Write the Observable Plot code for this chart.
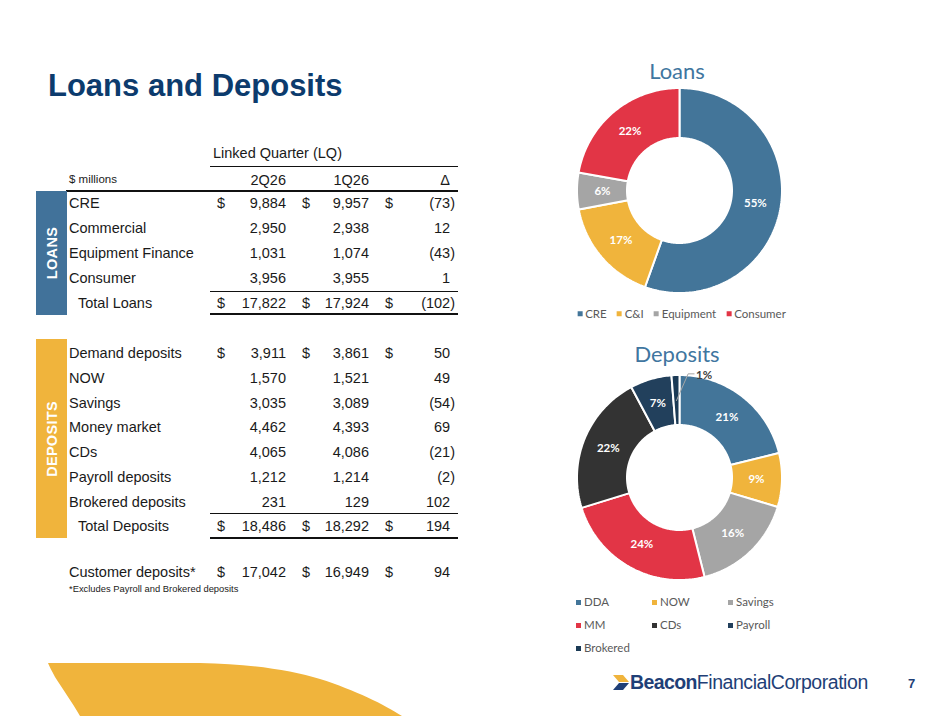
<!DOCTYPE html>
<html><head><meta charset="utf-8">
<script src="https://cdn.jsdelivr.net/npm/d3@7"></script>
<script src="https://cdn.jsdelivr.net/npm/@observablehq/plot@0.6"></script>
<style>
html,body{margin:0;padding:0;background:#fff;}
#slide{position:relative;width:941px;height:727px;overflow:hidden;background:#fff;font-family:"Liberation Sans",Arial,sans-serif;}
.t{position:absolute;white-space:nowrap;line-height:1;}
.rule{position:absolute;background:#111;}
.box{position:absolute;}
.chart{position:absolute;}
.legend{position:absolute;font-family:Lato,sans-serif;font-size:11.5px;color:#595959;line-height:1;}
.legend .it{display:flex;align-items:center;white-space:nowrap;}
.legend .sw{width:5px;height:5px;margin-right:3px;flex:none;}
</style></head><body>
<div id="slide"></div>
<script>
// ---------- DATA ----------
const tableColumns = ["2Q26", "1Q26", "Δ"];
const loanLabels = ["CRE", "Commercial", "Equipment Finance", "Consumer"];
const loan2Q26 = [9884, 2950, 1031, 3956];
const loan1Q26 = [9957, 2938, 1074, 3955];
const loanDelta = [-73, 12, -43, 1];
const loanTotals = [17822, 17924, -102];
const depositLabels = ["Demand deposits", "NOW", "Savings", "Money market", "CDs", "Payroll deposits", "Brokered deposits"];
const deposit2Q26 = [3911, 1570, 3035, 4462, 4065, 1212, 231];
const deposit1Q26 = [3861, 1521, 3089, 4393, 4086, 1214, 129];
const depositDelta = [50, 49, -54, 69, -21, -2, 102];
const depositTotals = [18486, 18292, 194];
const customerDeposits = [17042, 16949, 94];

const loanMixLabels = ["CRE", "C&I", "Equipment", "Consumer"];
const loanMixValues = [9884, 2950, 1031, 3956];
const loanMixPct = ["55%", "17%", "6%", "22%"];
const depositMixLabels = ["DDA", "NOW", "Savings", "MM", "CDs", "Payroll", "Brokered"];
const depositMixValues = [3911, 1570, 3035, 4462, 4065, 1212, 231];
const depositMixPct = ["21%", "9%", "16%", "24%", "22%", "7%", "1%"];

// ---------- STYLE ----------
const loanColors = ["#437599", "#f0b43c", "#a5a5a5", "#e23546"];
const depositColors = ["#437599", "#f0b43c", "#a5a5a5", "#e23546", "#333333", "#22405c", "#1b3a55"];
const NAVY = "#0c3b6d";

const slide = document.getElementById("slide");
function el(tag, cls, css, html) {
  const d = document.createElement(tag);
  if (cls) d.className = cls;
  if (css) d.style.cssText = css;
  if (html != null) d.innerHTML = html;
  slide.appendChild(d);
  return d;
}
function txt(x, y, s, o = {}) {
  const a = o.anchor || "start";
  const tx = a === "start" ? "0" : a === "middle" ? "-50%" : "-100%";
  return el("div", "t",
    `left:${x}px;top:${y}px;transform:translate(${tx},-50%);font-size:${o.size || 14.5}px;` +
    `font-weight:${o.weight || "normal"};color:${o.color || "#1a1a1a"};font-family:${o.family || '"Liberation Sans",Arial,sans-serif'};` +
    (o.extra || ""), s);
}
function rule(x1, x2, y, w = 1) {
  el("div", "rule", `left:${x1}px;top:${y - w / 2}px;width:${x2 - x1}px;height:${w}px;`);
}

// ---------- TITLE ----------
txt(48, 85, "Loans and Deposits", {size: 31, weight: "bold", color: NAVY});

// ---------- TABLE ----------
const f = d3.format(",");
const fmt = v => v < 0 ? `(${f(-v)})` : f(v);
const fmtDelta = v => v < 0 ? `(${f(-v)})` : `${f(v)}<span style="visibility:hidden">)</span>`;
const COL = {label: 69, indent: 78, d1: 217, v1: 286, d2: 302, v2: 369, d3: 385, v3: 455};

txt(277.5, 153, "Linked Quarter (LQ)", {anchor: "middle"});
rule(210, 458, 166, 1);
txt(COL.label, 180, "$ millions", {size: 11.5});
txt(COL.v1, 180, tableColumns[0], {anchor: "end"});
txt(COL.v2, 180, tableColumns[1], {anchor: "end"});
txt(COL.v3 - 5, 180, tableColumns[2], {anchor: "end"});
rule(66, 458, 191, 1.6);

function row(y, label, vals, {dollar = false, indent = false} = {}) {
  txt(indent ? COL.indent : COL.label, y, label);
  if (dollar) { txt(COL.d1, y, "$"); txt(COL.d2, y, "$"); txt(COL.d3, y, "$"); }
  txt(COL.v1, y, fmt(vals[0]), {anchor: "end"});
  txt(COL.v2, y, fmt(vals[1]), {anchor: "end"});
  txt(COL.v3, y, fmtDelta(vals[2]), {anchor: "end"});
}

// Loans block
const loanY0 = 203, step = 24.75;
loanLabels.forEach((l, i) => row(loanY0 + i * 25, l, [loan2Q26[i], loan1Q26[i], loanDelta[i]], {dollar: i === 0}));
rule(210, 458, 291, 1);
row(303, "Total Loans", loanTotals, {dollar: true, indent: true});
rule(210, 458, 314, 2);
el("div", "box", `left:36px;top:191px;width:31px;height:124px;background:#41729a;`);
txt(51.5, 253, "LOANS", {anchor: "middle", size: 14.5, weight: "bold", color: "#fff",
  extra: "transform:translate(-50%,-50%) rotate(-90deg);letter-spacing:0.3px;"});

// Deposits block
const depY0 = 353;
depositLabels.forEach((l, i) => row(depY0 + i * step, l, [deposit2Q26[i], deposit1Q26[i], depositDelta[i]], {dollar: i === 0}));
rule(210, 458, 513, 1);
row(526.3, "Total Deposits", depositTotals, {dollar: true, indent: true});
rule(210, 458, 537.5, 2);
el("div", "box", `left:36px;top:339px;width:31px;height:199px;background:#f0b43c;`);
txt(51.5, 438.5, "DEPOSITS", {anchor: "middle", size: 14.5, weight: "bold", color: "#fff",
  extra: "transform:translate(-50%,-50%) rotate(-90deg);letter-spacing:0.3px;"});

row(572, "Customer deposits*", customerDeposits, {dollar: true});
txt(COL.label, 589, "*Excludes Payroll and Brokered deposits", {size: 9.4});

// ---------- DONUTS ----------
function donut({labels, values, pcts, colors, cx, cy}) {
  const R1 = 102.5, R0 = 52.5, RM = 77, H = 120;
  const total = d3.sum(values);
  const arcs = d3.pie().sort(null).value(d => d)(values);
  const poly = [];
  arcs.forEach((p, i) => {
    const span = p.endAngle - p.startAngle;
    const n = Math.max(4, Math.ceil(span / (Math.PI / 180)));
    const ring = [];
    for (let k = 0; k <= n; k++) ring.push([p.startAngle + span * k / n, R1]);
    for (let k = n; k >= 0; k--) ring.push([p.startAngle + span * k / n, R0]);
    ring.push(ring[0]);
    ring.forEach(([a, r]) => poly.push({key: labels[i], x: r * Math.sin(a), y: r * Math.cos(a)}));
  });
  const labs = arcs.map((p, i) => ({a: (p.startAngle + p.endAngle) / 2, text: pcts[i], share: p.value / total, key: labels[i]}));
  const inside = labs.filter(d => d.share >= 0.03).map(d => ({x: RM * Math.sin(d.a), y: RM * Math.cos(d.a), text: d.text}));
  const outside = labs.filter(d => d.share < 0.03);
  const leaders = [], outText = [];
  outside.forEach(d => {
    const ea = d.a + 7 * Math.PI / 180, er = R1 + 1.5;
    const ex = er * Math.sin(ea), ey = er * Math.cos(ea);
    leaders.push({key: d.key, x: RM * Math.sin(d.a), y: RM * Math.cos(d.a)});
    leaders.push({key: d.key, x: ex, y: ey});
    leaders.push({key: d.key, x: ex + 6, y: ey});
    outText.push({x: ex + 8, y: ey - 1, text: d.text});
  });
  const svg = Plot.plot({
    width: 2 * H, height: 2 * H, margin: 0,
    x: {domain: [-H, H], axis: null},
    y: {domain: [-H, H], axis: null},
    color: {domain: labels, range: colors},
    style: {background: "transparent", overflow: "visible"},
    marks: [
      Plot.line(poly, {x: "x", y: "y", z: "key", fill: "key", stroke: "white", strokeWidth: 2, strokeLinejoin: "miter"}),
      Plot.line(leaders, {x: "x", y: "y", z: "key", stroke: "#a6a6a6", strokeWidth: 1, curve: "linear"}),
      Plot.text(inside, {x: "x", y: "y", text: "text", fill: "white", fontSize: 11.5, fontWeight: "bold", fontFamily: "Lato"}),
      Plot.text(outText, {x: "x", y: "y", text: "text", fill: "#404040", fontSize: 11.5, fontWeight: "bold", fontFamily: "Lato", textAnchor: "start"})
    ]
  });
  const wrap = el("div", "chart", `left:${cx - H}px;top:${cy - H}px;width:${2 * H}px;height:${2 * H}px;`);
  wrap.appendChild(svg);
}

function legend(labels, colors, css) {
  const d = el("div", "legend", css);
  labels.forEach((l, i) => {
    const it = document.createElement("div");
    it.className = "it";
    const sw = document.createElement("span");
    sw.className = "sw"; sw.style.background = colors[i];
    const tx = document.createElement("span");
    tx.textContent = l;
    it.appendChild(sw); it.appendChild(tx);
    d.appendChild(it);
  });
  return d;
}

donut({labels: loanMixLabels, values: loanMixValues, pcts: loanMixPct, colors: loanColors, cx: 679, cy: 189.5});
txt(677, 71, "Loans", {anchor: "middle", size: 22, family: "Lato", color: "#3f76a0"});
legend(loanMixLabels, loanColors, "left:681.5px;top:314px;transform:translate(-50%,-50%);display:flex;gap:10px;");

donut({labels: depositMixLabels, values: depositMixValues, pcts: depositMixPct, colors: depositColors, cx: 678.5, cy: 477});
txt(677, 354, "Deposits", {anchor: "middle", size: 22, family: "Lato", color: "#3f76a0", extra: "line-height:0.9;"});
legend(depositMixLabels, depositColors, "left:576px;top:590.5px;display:grid;grid-template-columns:76px 76px 76px;grid-auto-rows:23px;align-items:center;");

// ---------- FOOTER ----------
const ns = "http://www.w3.org/2000/svg";
const deco = document.createElementNS(ns, "svg");
deco.setAttribute("width", 941); deco.setAttribute("height", 727);
deco.style.cssText = "position:absolute;left:0;top:0;pointer-events:none;";
deco.innerHTML =
  `<path d="M48,663 L200,663 C250,664 290,670 320,679 C355,690 385,705 402,716 L80,716 C72,702 62,688 55,677 C52,671 49,666 48,663 Z" fill="#f0b43c"/>` +
  `<path d="M613,675 L623,675 L629,682 L619,682 Z" fill="#f0b43c"/>` +
  `<path d="M619,683 L629,683 L623,690 L613,690 Z" fill="#1f3f77"/>`;
slide.appendChild(deco);
txt(630, 683, `<span style="font-weight:bold;letter-spacing:-0.6px">Beacon</span><span style="letter-spacing:-0.45px">FinancialCorporation</span>`,
  {size: 19.5, color: "#1f3f77"});
txt(908, 683, "7", {size: 13, weight: "bold", color: "#1f3f77"});
</script>
</body></html>
